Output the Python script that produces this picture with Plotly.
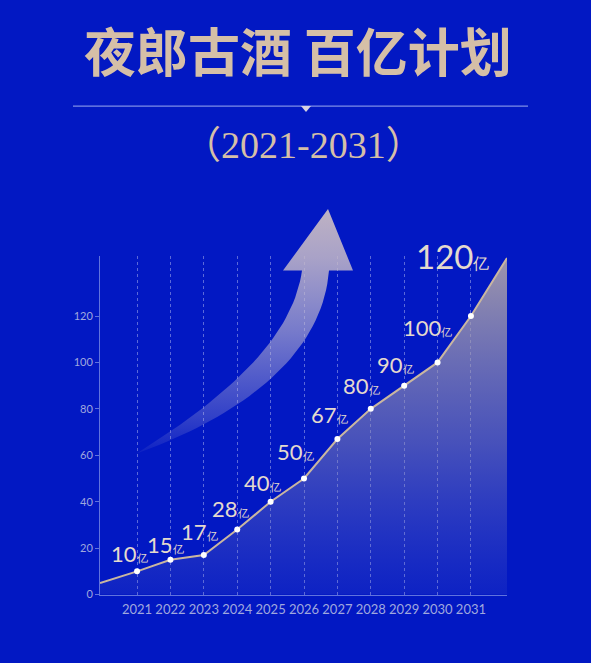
import numpy as np
import plotly.graph_objects as go

# ---------------- data ----------------
years = [2021, 2022, 2023, 2024, 2025, 2026, 2027, 2028, 2029, 2030, 2031]
values = [10, 15, 17, 28, 40, 50, 67, 80, 90, 100, 120]
unit = "亿"
lead_in = [2019.89, 5]      # where the line enters at the left edge
run_out = [2032.08, 145]    # where the line leaves at the right edge
y_ticks = [0, 20, 40, 60, 80, 100, 120]
title_text = "夜郎古酒 百亿计划"
subtitle_text = "（2021-2031）"

# ---------------- style ----------------
W, H = 591, 663
BG = "#0218C3"
BEIGE = "#D5BFA7"
LABEL_COL = "rgb(228,218,205)"
AXIS_COL = "rgba(130,145,230,0.75)"
TICK_COL = "rgb(160,168,222)"
# label pixel offsets (dx, dy above the point)
label_offsets = [(-8, 8), (-5, 6), (-4, 14), (-7, 12), (-8, 10), (-9, 17),
                 (-8, 15), (-9, 14), (-9, 12), (-10, 25), (-18, 47)]

# plot area in pixels
px_left, px_right, px_top, px_bottom = 100, 507, 258, 600

fig = go.Figure()

line_x = [lead_in[0]] + years + [run_out[0]]
line_y = [lead_in[1]] + values + [run_out[1]]

fig.add_trace(go.Scatter(
    x=line_x, y=line_y, mode="lines",
    line=dict(color="#C9B6A0", width=2),
    fill="tozeroy",
    fillgradient=dict(type="vertical", colorscale=[
        [0.0, "rgba(100,110,200,0.12)"],
        [0.45, "rgba(140,138,178,0.5)"],
        [1.0, "rgba(185,172,168,0.85)"],
    ]),
    hoverinfo="skip", showlegend=False,
))
fig.add_trace(go.Scatter(
    x=years, y=values, mode="markers",
    marker=dict(color="white", size=6, line=dict(width=0)),
    hoverinfo="skip", showlegend=False,
))

# ---------------- decorative arrow on pixel overlay axes ----------------
def cubic(p0, p1, p2, p3, n=40):
    t = np.linspace(0, 1, n)[:, None]
    p0, p1, p2, p3 = map(np.array, (p0, p1, p2, p3))
    return ((1 - t) ** 3) * p0 + 3 * ((1 - t) ** 2) * t * p1 + 3 * (1 - t) * t ** 2 * p2 + t ** 3 * p3

outer = cubic((329, 273), (322, 360), (240, 420), (136, 458))
inner = cubic((302, 273), (292, 345), (220, 405), (136, 458))[::-1]
poly = np.vstack([[(328, 211)], [(353, 273)], outer, inner, [(283, 273)], [(328, 211)]])
fig.add_trace(go.Scatter(
    x=poly[:, 0], y=H - poly[:, 1], mode="lines", line=dict(width=0),
    fill="toself",
    fillgradient=dict(type="vertical", colorscale=[
        [0.0, "rgba(190,185,215,0.06)"],
        [0.15, "rgba(192,186,214,0.25)"],
        [0.5, "rgba(196,188,208,0.6)"],
        [0.8, "rgba(198,186,200,0.85)"],
        [1.0, "rgba(200,186,195,0.95)"],
    ]),
    xaxis="x2", yaxis="y2", hoverinfo="skip", showlegend=False,
))

# ---------------- header ----------------
shapes = [
    dict(type="line", xref="x2", yref="y2", x0=73, x1=528, y0=H - 107, y1=H - 107,
         line=dict(color="rgba(140,155,235,0.9)", width=1.2)),
    dict(type="path", xref="x2", yref="y2",
         path=f"M 301 {H-107} L 311 {H-107} L 306 {H-113} Z",
         fillcolor="rgb(215,210,225)", line=dict(width=0)),
]

annotations = [
    dict(text=title_text, x=298, y=H - 50, xref="x2", yref="y2", showarrow=False,
         font=dict(family="Noto Sans CJK SC", size=52, color=BEIGE, weight=700),
         xanchor="center", yanchor="middle"),
    dict(text=subtitle_text, x=303, y=H - 146, xref="x2", yref="y2", showarrow=False,
         font=dict(family="Liberation Serif, Noto Sans CJK SC", size=38, color=BEIGE),
         xanchor="center", yanchor="middle"),
]

for i, (yr, v) in enumerate(zip(years, values)):
    dx, dy = label_offsets[i]
    big = (i == len(values) - 1)
    fs = 33 if big else 22
    us = 16 if big else 11
    annotations.append(dict(
        text=f"{v}<span style='font-size:{us}px'>{unit}</span>",
        x=yr, y=v, xref="x", yref="y", showarrow=False,
        xanchor="center", yanchor="bottom",
        xshift=dx, yshift=dy - 0.27 * fs,
        font=dict(family="Lato", size=fs, color=LABEL_COL),
    ))

fig.update_layout(
    width=W, height=H,
    margin=dict(l=0, r=0, t=0, b=0),
    paper_bgcolor=BG, plot_bgcolor="rgba(0,0,0,0)",
    showlegend=False,
    shapes=shapes, annotations=annotations,
    xaxis=dict(
        domain=[px_left / W, px_right / W],
        range=[lead_in[0], run_out[0]],
        tickvals=years, ticktext=[str(y) for y in years],
        showgrid=True, gridcolor="rgba(200,205,245,0.45)", griddash="3px,3px", gridwidth=1,
        showline=True, linecolor=AXIS_COL, linewidth=1,
        ticks="", zeroline=False, ticklabelstandoff=3,
        tickfont=dict(family="Lato", size=13, color=TICK_COL),
        fixedrange=True,
    ),
    yaxis=dict(
        domain=[1 - px_bottom / H, 1 - px_top / H],
        range=[0, 146],
        tickvals=y_ticks,
        showgrid=False, zeroline=False,
        showline=True, linecolor=AXIS_COL, linewidth=1,
        ticks="outside", ticklen=4, tickcolor=AXIS_COL,
        tickfont=dict(family="Lato", size=11, color=TICK_COL),
        fixedrange=True,
    ),
    xaxis2=dict(domain=[0, 1], range=[0, W], visible=False, anchor="y2", fixedrange=True),
    yaxis2=dict(domain=[0, 1], range=[0, H], visible=False, anchor="x2", fixedrange=True),
)

fig.write_html(
    "out.html",
    config={"displayModeBar": False},
    post_script=f"document.body.style.margin='0';document.body.style.background='{BG}';",
)
